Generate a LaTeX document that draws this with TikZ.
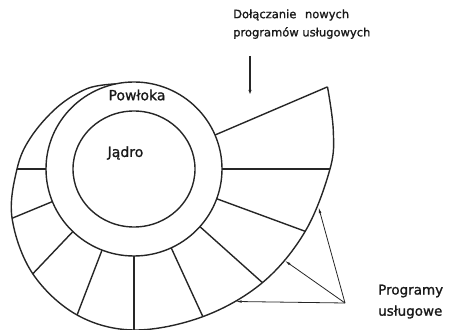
\documentclass[tikz,border=0pt]{standalone}
\usepackage{fontspec}
\setmainfont{DejaVu Sans}[FakeBold=1.2]
\usetikzlibrary{calc,arrows.meta,shapes.geometric}
\begin{document}
\begin{tikzpicture}[x=1pt,y=1pt,
  main/.style={line width=1.4pt,draw=black!85},
  ptr/.style={line width=0.8pt,draw=black!85,-{Latex[length=6pt,width=2.6pt]}},
  lbl/.style={inner sep=0pt,text=black!90}]
\useasboundingbox (0,0) rectangle (449,329);
\coordinate (c) at (134,160);
% kernel and shell
\node[main,ellipse,minimum width=122pt,minimum height=116pt,inner sep=0pt] (jadro) at (c) {};
\node[main,ellipse,minimum width=176pt,minimum height=174pt,inner sep=0pt] (powloka) at (c) {};
% spiral support points
\coordinate (a0) at ($(c)+(102:88pt and 87pt)$);
\coordinate (a1) at ($(c)+(120:93pt)$);
\coordinate (a2) at ($(c)+(141:98.5pt)$);
\coordinate (a3) at ($(c)+(163:108pt)$);
\coordinate (a4) at ($(c)+(11:203pt)$);
% radial segments
\foreach \ang/\rad [count=\i] in {180/117,202/131.5,226/145.7,248.7/156.7,270/161,295/162.9,318.5/171.5,340/182.2,360/196,383/210.2}{
  \coordinate (in\i) at ($(c)+(\ang:88pt and 87pt)$);
  \coordinate (out\i) at ($(c)+(\ang:\rad pt)$);
  \draw[main] (in\i) -- (out\i);
}
\draw[main] plot[smooth,tension=0.6] coordinates {(a0) (a1) (a2) (a3) (out1) (out2) (out3) (out4) (out5) (out6) (out7) (out8) (out9) (a4) (out10)};
% labels
\node[lbl,font=\fontsize{14}{16}\selectfont] (tp) at (137,234) {Powłoka};
\node[lbl,font=\fontsize{14}{16}\selectfont] (tj) at (125.5,176) {Jądro};
\node[lbl,anchor=west,font=\fontsize{11.5}{13}\selectfont] (d1) at (233,314) {Dołączanie\hspace{0.75em}nowych};
\node[lbl,anchor=west,font=\fontsize{11.5}{13}\selectfont] (d2) at (233,296) {programów usługowych};
\node[lbl,anchor=west,font=\fontsize{13.5}{15}\selectfont] (pr1) at (378,38) {Programy};
\node[lbl,anchor=west,font=\fontsize{13.5}{15}\selectfont] (pr2) at (378,17) {usługowe};
% arrows
\coordinate (dtop) at (250,273);
\coordinate (dtip) at (250,232);
\draw[main,-{Latex[length=7pt,width=3pt]}] (dtop) -- (dtip);
\coordinate (src) at (345,26);
\coordinate (t1) at ($(c)+(307.5:167pt)$);
\coordinate (t2) at ($(c)+(328.7:176.5pt)$);
\coordinate (t3) at ($(c)+(348.3:188.5pt)$);
\draw[ptr] (src) -- (t1);
\draw[ptr] (src) -- (t2);
\draw[ptr] (src) -- (t3);
\end{tikzpicture}
\end{document}
